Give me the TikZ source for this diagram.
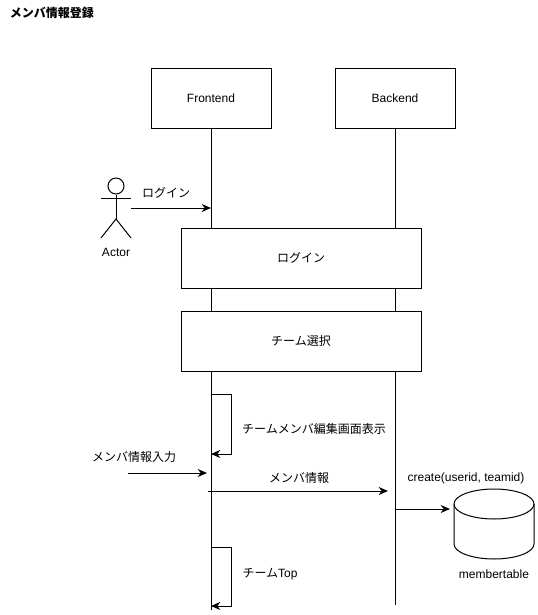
\documentclass[tikz,border=0pt]{standalone}
\usepackage{fontspec}
\setmainfont{Liberation Sans}
\newfontfamily\cjk{Noto Sans CJK JP}
\usetikzlibrary{arrows.meta,positioning}

\begin{document}
\begin{tikzpicture}[>={Stealth[length=7pt,width=6pt]},x=0.75pt,y=-0.75pt,
    line width=0.75pt,font=\fontsize{9pt}{11pt}\selectfont,
    lifebox/.style={draw,fill=white,minimum width=90pt,minimum height=45pt},
    framebox/.style={draw,fill=white,minimum width=180pt,minimum height=45pt},
    label/.style={inner sep=0pt}]
    \useasboundingbox (0,0) rectangle (538,615);

    \node[label,font=\fontsize{9pt}{11pt}\selectfont\bfseries] (title) at (52,13) {\cjk メンバ情報登録};

    \node[lifebox] (frontend) at (211,98) {Frontend};
    \node[lifebox] (backend) at (395,98) {Backend};
    \coordinate (frontendend) at (211,610);
    \coordinate (backendend) at (395,605);
    \draw (frontend)--(frontendend);
    \draw (backend)--(backendend);

    \node[framebox] (login) at (301,258) {\cjk ログイン};
    \node[framebox] (team) at (301,341) {\cjk チーム選択};

    % actor
    \node[draw,circle,minimum size=12pt,inner sep=0pt] (head) at (116,186) {};
    \coordinate (hip) at (116,219);
    \coordinate (armleft) at (101,198);
    \coordinate (armright) at (131,198);
    \coordinate (footleft) at (101,238);
    \coordinate (footright) at (131,238);
    \draw (head)--(hip);
    \draw (armleft)--(armright);
    \draw (footleft)--(hip)--(footright);
    \node[label] (actor) at (116,252) {Actor};

    \coordinate (loginstart) at (131,208);
    \coordinate (loginend) at (211,208);
    \draw[->] (loginstart)--(loginend);
    \node[label] (loginlabel) at (166,193) {\cjk ログイン};

    % self calls
    \coordinate (editstart) at (211,394);
    \coordinate (editend) at (211,454);
    \draw[->] (editstart)-|(231,454)--(editend);
    \node[label] (editlabel) at (314,429) {\cjk チームメンバ編集画面表示};

    \coordinate (inputstart) at (128,473);
    \coordinate (inputend) at (207,473);
    \draw[->] (inputstart)--(inputend);
    \node[label] (inputlabel) at (134,457) {\cjk メンバ情報入力};

    \coordinate (infostart) at (208,491);
    \coordinate (infoend) at (388,491);
    \draw[->] (infostart)--(infoend);
    \node[label] (infolabel) at (299,478) {\cjk メンバ情報};

    % table
    \draw (454,504) arc[start angle=180,end angle=-180,x radius=40,y radius=15];
    \draw (454,504)--(454,544) arc[start angle=180,end angle=360,x radius=40,y radius=-15]--(534,504);
    \coordinate (createstart) at (395,509);
    \coordinate (createend) at (450,509);
    \draw[->] (createstart)--(createend);
    \node[label] (createlabel) at (466,478) {create(userid, teamid)};
    \node[label] (tablelabel) at (494,574) {membertable};

    \coordinate (topstart) at (211,547);
    \coordinate (topend) at (211,606);
    \draw[->] (topstart)-|(231,606)--(topend);
    \node[label] (toplabel) at (270,574) {{\cjk チーム}Top};
\end{tikzpicture}
\end{document}
